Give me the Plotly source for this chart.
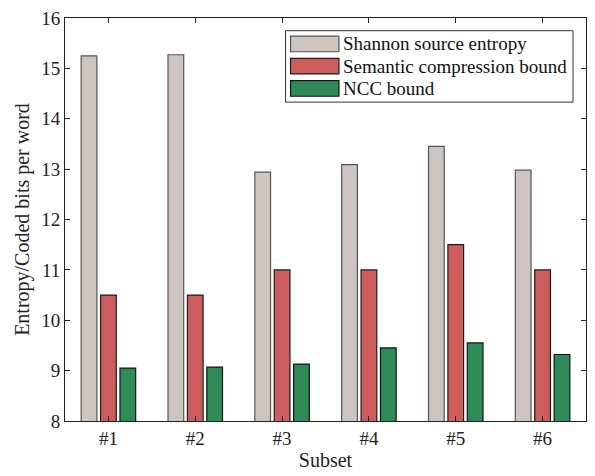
import plotly.graph_objects as go

categories = ["#1", "#2", "#3", "#4", "#5", "#6"]
shannon = [15.25, 15.27, 12.94, 13.09, 13.45, 12.98]
semantic = [10.5, 10.5, 11.0, 11.0, 11.5, 11.0]
ncc = [9.05, 9.07, 9.13, 9.45, 9.55, 9.32]
names = ["Shannon source entropy", "Semantic compression bound", "NCC bound"]
colors = ["rgb(205,198,192)", "rgb(205,92,92)", "rgb(46,139,87)"]
edges = ["rgb(85,85,85)", "rgb(30,30,30)", "rgb(20,20,20)"]

W, H = 595, 476
ML, MR, MT, MB = 65, 8, 10, 54
PW, PH = W - ML - MR, H - MT - MB


def px(x):
    return (x - ML) / PW


def py(y):
    return 1 - (y - MT) / PH


font = "Liberation Serif"
fig = go.Figure()
for vals, nm, c, e in zip([shannon, semantic, ncc], names, colors, edges):
    fig.add_trace(go.Bar(x=categories, y=vals, name=nm, base=0, showlegend=False,
                         marker=dict(color=c, line=dict(color=e, width=1.2))))

# manual legend (MATLAB style, wide swatches)
shapes = [dict(type="rect", xref="paper", yref="paper",
               x0=px(286), x1=px(574), y0=py(96), y1=py(23),
               line=dict(color="#333", width=1), fillcolor="white", layer="above")]
annotations = []
row_top = [28.5, 51.2, 74.0]
for i, (nm, c, e) in enumerate(zip(names, colors, edges)):
    t = row_top[i]
    shapes.append(dict(type="rect", xref="paper", yref="paper",
                       x0=px(291), x1=px(339.5), y0=py(t + 16), y1=py(t),
                       line=dict(color=e, width=1.2), fillcolor=c, layer="above"))
    annotations.append(dict(text=nm, xref="paper", yref="paper",
                            x=px(341.5), y=py(t + 8), xanchor="left", yanchor="middle",
                            showarrow=False, font=dict(family=font, size=19, color="#111")))

fig.update_layout(
    width=W, height=H,
    margin=dict(l=ML, r=MR, t=MT, b=MB),
    barmode="group", bargap=0.33, bargroupgap=0.19,
    plot_bgcolor="white", paper_bgcolor="white",
    font=dict(family=font, size=19, color="#222"),
    shapes=shapes, annotations=annotations,
    xaxis=dict(title=dict(text="Subset", standoff=5, font=dict(size=20, family=font)),
               range=[-0.5, 5.5], showline=True, linecolor="#222", linewidth=1,
               mirror="ticks", ticks="inside", ticklen=5, tickcolor="#222",
               tickfont=dict(size=19, family=font)),
    yaxis=dict(title=dict(text="Entropy/Coded bits per word", standoff=6,
                          font=dict(size=20, family=font)),
               range=[8, 16], dtick=1, showline=True, linecolor="#222", linewidth=1,
               mirror="ticks", ticks="inside", ticklen=5, tickcolor="#222",
               ticklabeloverflow="allow",
               showgrid=False, zeroline=False, tickfont=dict(size=19, family=font)),
)
fig.write_html("out.html", config={"displayModeBar": False},
               post_script="document.body.style.margin='0';")
